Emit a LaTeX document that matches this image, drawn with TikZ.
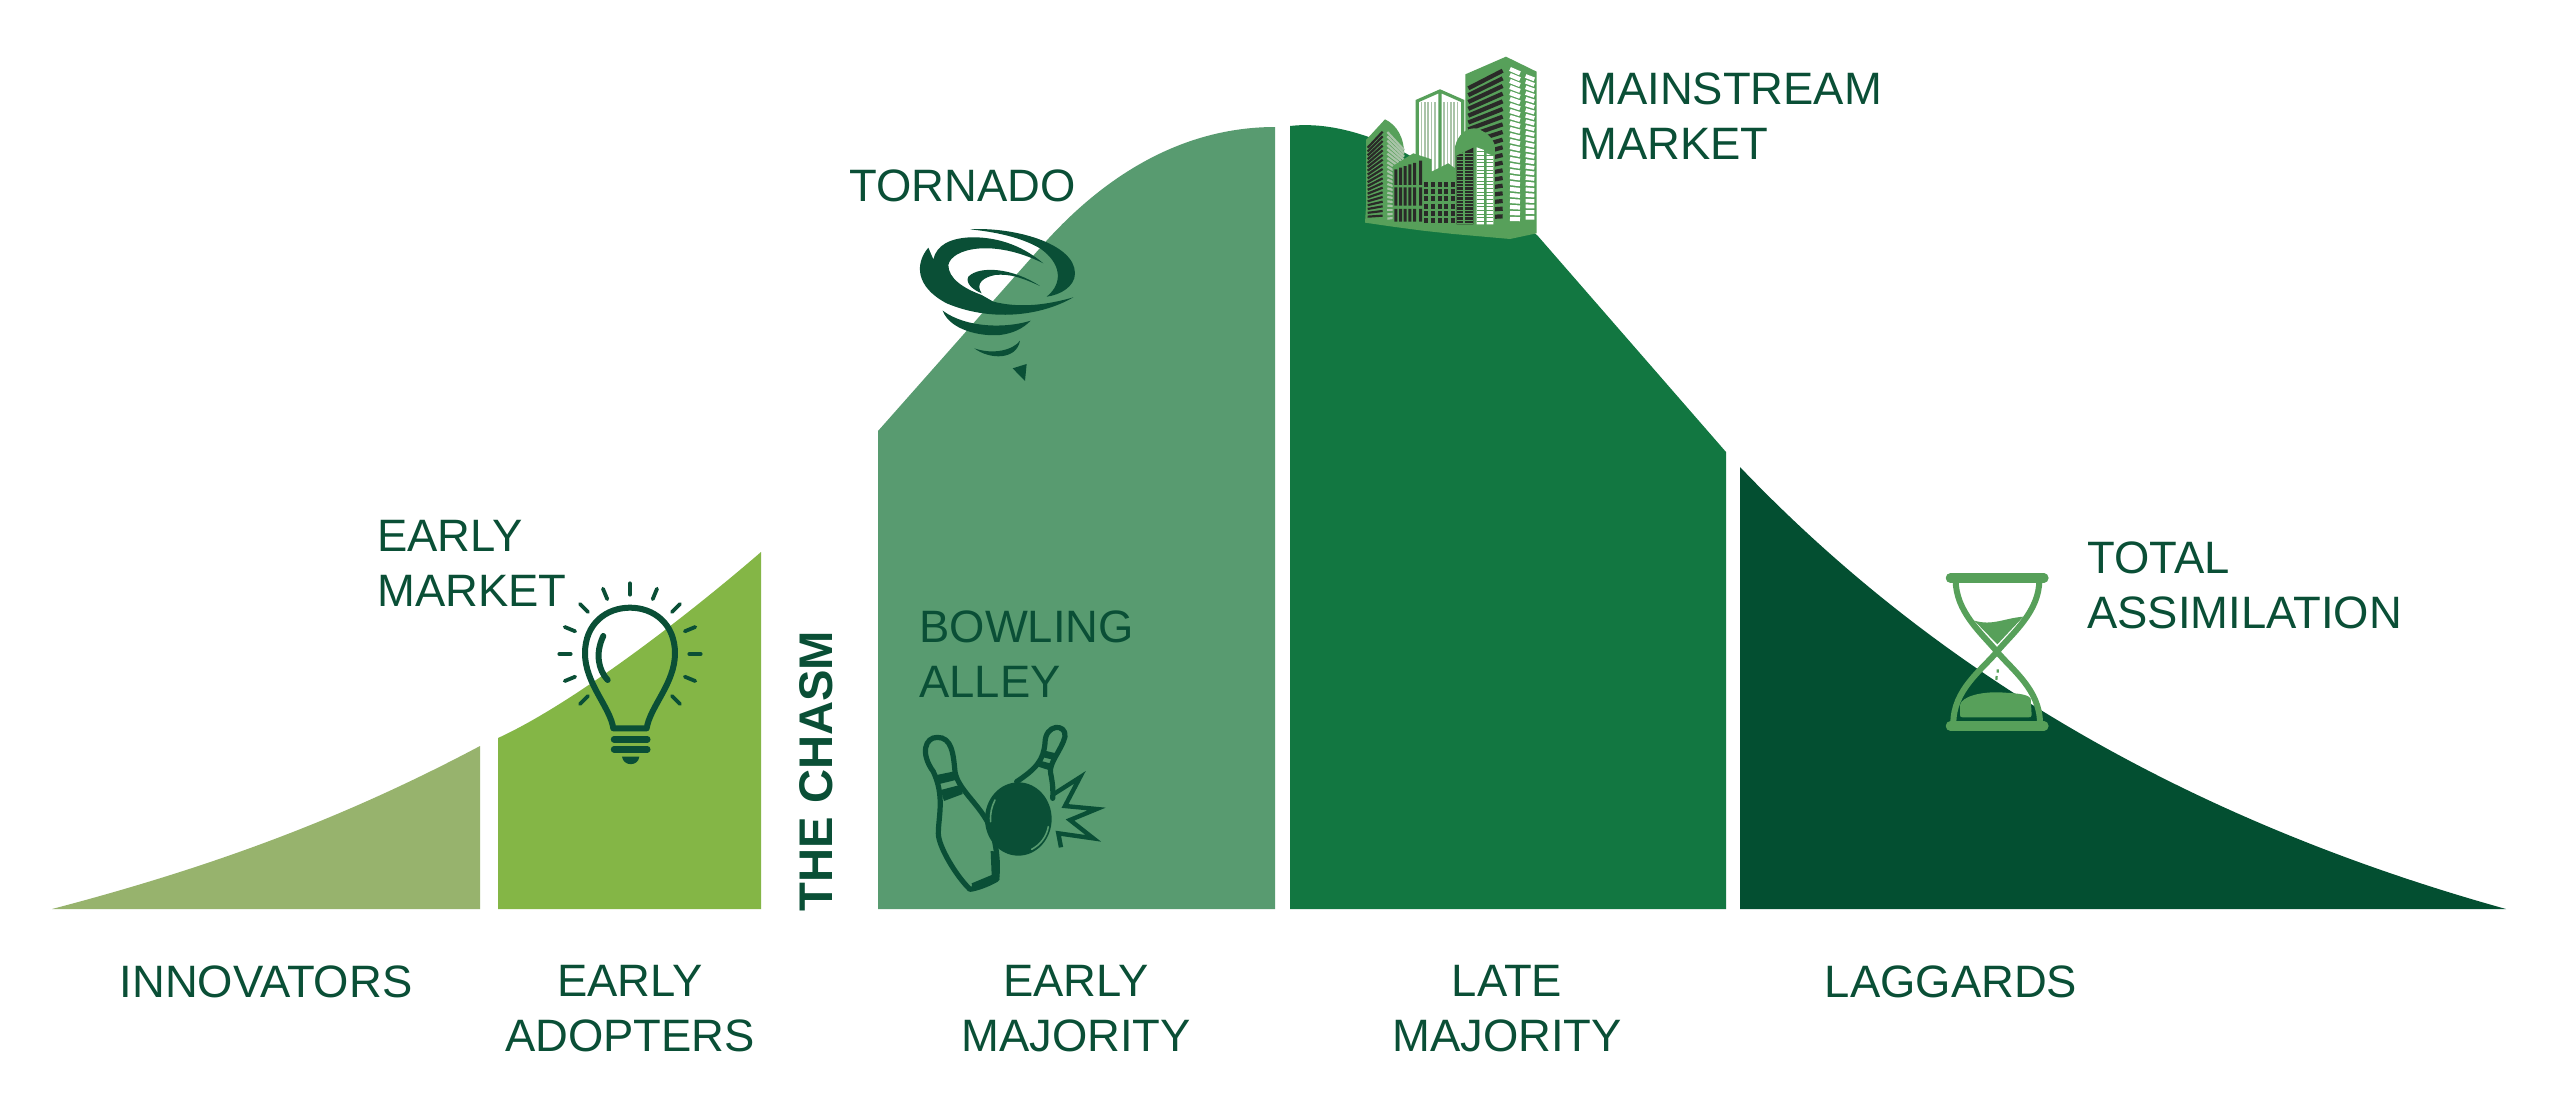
\documentclass[tikz,border=0pt]{standalone}
\usepackage{fontspec}
\setmainfont{Liberation Sans}
\usepackage{tikz}
\usetikzlibrary{calc}
\definecolor{inkg}{HTML}{0A4F36}
\definecolor{innog}{HTML}{97B36D}
\definecolor{adopg}{HTML}{84B646}
\definecolor{earlg}{HTML}{589B70}
\definecolor{lateg}{HTML}{127741}
\definecolor{laggg}{HTML}{034F31}
\definecolor{iconl}{HTML}{57A05A}
\definecolor{winb}{HTML}{2A2A28}
\definecolor{paleg}{HTML}{A9C4A8}

\begin{document}
\begin{tikzpicture}[x=0.5pt,y=-0.5pt,
  lab/.style={inner sep=0pt,anchor=west,align=left,text=inkg,font=\fontsize{22.7}{27.5}\selectfont},
  lowlab/.style={inner sep=0pt,anchor=north,align=center,text=inkg,font=\fontsize{22.7}{27.5}\selectfont},
  icon/.style={draw=inkg,line cap=round,line join=round}]

\useasboundingbox[fill=white] (0,0) rectangle (2560,1116);

% the five parts of the curve
\fill[innog] (52,909) .. controls (220,865) and (350,815) .. (480,746) -- (480,909) -- cycle;
\fill[adopg] (498,738) .. controls (570,705) and (680,622) .. (761,552) -- (761,909) -- (498,909) -- cycle;
\fill[earlg] (878,431) -- (1040,248) .. controls (1110,168) and (1190,127) .. (1275,127) -- (1275,909) -- (878,909) -- cycle;
\fill[lateg] (1290,126) .. controls (1340,120) and (1400,145) .. (1440,175) -- (1537,235) -- (1726,452) -- (1726,909) -- (1290,909) -- cycle;
\fill[laggg] (1740,467) .. controls (1910,645) and (2150,810) .. (2506,909) -- (1740,909) -- cycle;

\node[lab] (mark) at (377,563) {EARLY\\MARKET};
\node[lab] (torn) at (849,186) {TORNADO};
\node[lab] (main) at (1579,116) {MAINSTREAM\\MARKET};
\node[lab] (bowl) at (919,654) {BOWLING\\ALLEY};
\node[lab] (tota) at (2087,585) {TOTAL\\ASSIMILATION};
\node[inner sep=0pt,text=inkg,rotate=90,font=\fontsize{23.6}{27}\selectfont\bfseries] (chas) at (816,771) {THE CHASM};

\node[lowlab] (inno) at (266,965) {INNOVATORS};
\node[lowlab] (adop) at (630,965) {EARLY\\ADOPTERS};
\node[lowlab] (emaj) at (1076,965) {EARLY\\MAJORITY};
\node[lowlab] (lmaj) at (1507,965) {LATE\\MAJORITY};
\node[lowlab] (lagg) at (1951,965) {LAGGARDS};

% bulb
\begin{scope}[shift={(540,560)},scale=0.3333]
\draw[icon,line width=3pt] (220,505) .. controls (210,440) and (135,370) .. (135,280) .. controls (135,190) and (200,143) .. (270,143) .. controls (340,143) and (405,190) .. (405,280) .. controls (405,370) and (330,440) .. (320,505) -- cycle;
\draw[icon,line width=3pt] (190,228) .. controls (165,280) and (175,330) .. (203,360);
\draw[icon,line width=3.2pt] (222,538) -- (322,538) (222,568) -- (322,568);
\fill[inkg] (246,590) -- (298,590) .. controls (295,620) and (250,620) .. (246,590) -- cycle;
\foreach \a in {-45,-22.5,0,22.5,45,67.5,90,112.5,135,157.5,180,202.5,225}
  \draw[icon,line width=1.9pt] ($(270,282)+(\a:178 and -178)$) -- ($(270,282)+(\a:212 and -212)$);
\end{scope}

% tornado
\begin{scope}[shift={(880,200)},scale=0.3333]
\fill[inkg] (270,88) .. controls (400,80) and (585,130) .. (585,220) .. controls (585,260) and (540,285) .. (500,290) .. controls (550,250) and (545,190) .. (480,145) .. controls (420,110) and (340,95) .. (270,88) -- cycle;
\fill[inkg] (145,143) .. controls (105,190) and (105,260) .. (200,310) .. controls (330,365) and (480,350) .. (580,292) .. controls (500,315) and (420,325) .. (340,305) -- (305,285) .. controls (250,265) and (205,235) .. (205,195) .. controls (215,145) and (340,115) .. (490,190) .. controls (420,130) and (340,110) .. (270,112) .. controls (210,115) and (170,135) .. (160,178) -- cycle;
\fill[inkg] (480,258) .. controls (400,205) and (300,195) .. (265,230) .. controls (255,250) and (280,270) .. (305,280) .. controls (285,250) and (310,232) .. (345,225) .. controls (390,220) and (430,235) .. (480,258) -- cycle;
\fill[inkg] (188,332) .. controls (210,390) and (300,410) .. (360,405) .. controls (400,400) and (430,385) .. (452,362) .. controls (380,385) and (260,385) .. (188,332) -- cycle;
\fill[inkg] (283,445) .. controls (330,480) and (410,480) .. (420,422) .. controls (400,450) and (340,465) .. (283,445) -- cycle;
\fill[inkg] (398,505) -- (440,492) -- (435,543) -- cycle;
\end{scope}

% bowling pins and ball
\begin{scope}[shift={(880,700)},scale=0.3333]
\draw[icon,line width=2.6pt] (160,215) .. controls (120,160) and (135,112) .. (172,112) .. controls (215,112) and (220,160) .. (225,215) .. controls (235,280) and (330,330) .. (345,430) .. controls (355,480) and (352,520) .. (350,538) .. controls (320,555) and (290,565) .. (270,568) .. controls (230,530) and (175,440) .. (175,400) .. controls (175,350) and (195,290) .. (160,215) -- cycle;
\fill[inkg] (170,225) -- (228,213) -- (235,238) -- (178,252) -- cycle (182,270) -- (240,255) -- (248,282) -- (192,303) -- cycle;
\fill[inkg] (332,453) -- (352,455) -- (358,540) -- (278,572) -- (275,550) -- (335,525) -- cycle;
\draw[icon,line width=2.6pt] (410,245) .. controls (470,205) and (490,180) .. (495,130) .. controls (495,70) and (560,70) .. (555,110) .. controls (545,150) and (505,190) .. (512,220) .. controls (518,250) and (520,270) .. (518,295);
\fill[inkg] (487,150) -- (528,160) -- (522,180) -- (482,170) -- cycle (480,182) -- (518,192) -- (512,212) -- (475,200) -- cycle;
\fill[inkg] (415,357) ellipse (100 and 110);
\draw[icon,line width=0.8pt,draw=earlg] (345,300) .. controls (335,320) and (330,340) .. (332,365) (505,380) .. controls (500,410) and (480,435) .. (455,448);
\draw[draw=inkg,line width=2.2pt,line join=miter] (543,442) -- (535,400) -- (640,415) -- (570,360) -- (650,327) -- (555,318) -- (600,232) -- (520,283);
\end{scope}

% buildings
\begin{scope}[shift={(1280,40)},scale=0.3333]
\fill[white] (412,183) -- (480,153) -- (548,183) -- (548,400) -- (412,400) -- cycle;
\foreach \x in {422,432,442,452,462,490,500,510,520,530}
  \fill[paleg] (\x,185) rectangle (\x+5,400);
\draw[iconl,line width=1.6pt] (412,345) -- (412,183) -- (480,153) -- (548,183) -- (548,400) (480,153) -- (480,400);
\fill[iconl] (556,103) -- (678,50) -- (770,95) -- (770,580) -- (690,597) -- (520,582) -- (428,572) -- (338,560) -- (255,548) -- (258,500) -- (556,500) -- cycle;
\foreach \i in {0,...,19}
  \draw[winb,line width=2.1pt] (565,{145+\i*20.5}) -- (668,{92+\i*23});
\foreach \i in {0,...,25} {
  \draw[white,line width=2.1pt] (690,{87+\i*18}) -- (720,{100+\i*17.5});
  \draw[white,line width=1.9pt] (737,{108+\i*17}) -- (763,{118+\i*16.6});
}
% left tower
\fill[iconl] (258,300) -- (315,238) .. controls (350,255) and (373,290) .. (373,350) -- (338,380) -- (338,550) -- (258,548) -- cycle;
\foreach \i in {0,...,18}
  \draw[winb,line width=1.1pt] (263,{323+\i*11.5}) -- (308,{275+\i*14});
\foreach \i in {0,...,20}
  \draw[paleg,line width=1.1pt] (322,{276+\i*13}) -- (372,{330+\i*10});
% low blocks
\fill[iconl] (338,378) -- (400,340) -- (455,358) -- (455,395) -- (505,370) -- (525,385) -- (525,320) .. controls (535,280) and (560,265) .. (585,265) .. controls (610,270) and (640,290) .. (645,320) -- (645,560) -- (338,557) -- cycle;
\foreach \x in {343,357,371,385,399,417}
  \fill[winb] (\x,{388-(\x-343)*0.35}) rectangle (\x+9,435) (\x,442) rectangle (\x+9,497) (\x,507) rectangle (\x+9,545);
\foreach \x in {433,453,473,493,512}
  \foreach \y in {425,447,469,491,513,535}
    \fill[winb] (\x,\y) rectangle (\x+12,\y+15);
\fill[winb] (530,347) -- (580,323) -- (580,553) -- (530,553) -- cycle;
\foreach \y in {340,350,...,550}
  \draw[iconl,line width=0.4pt] (530,\y) -- (580,\y);
\draw[iconl,line width=1pt] (552,330) -- (552,553);
\fill[white] (590,322) -- (612,330) -- (612,553) -- (590,553) -- cycle (620,340) -- (640,348) -- (640,553) -- (620,553) -- cycle;
\foreach \y in {335,346,...,550}
  \draw[iconl,line width=0.4pt] (590,\y) -- (640,\y);
\end{scope}

% hourglass
\begin{scope}[shift={(1920,550)},scale=0.3333]
\draw[iconl,line width=3pt,line cap=round] (107,90) .. controls (107,185) and (185,250) .. (231,305) .. controls (277,360) and (360,420) .. (360,520);
\draw[iconl,line width=3pt,line cap=round] (358,90) .. controls (358,185) and (277,250) .. (231,305) .. controls (185,360) and (100,420) .. (100,520);
\draw[iconl,line width=4.6pt,line cap=round] (91,84) -- (372,84) (91,528) -- (372,528);
\fill[iconl] (163,212) .. controls (220,228) and (250,205) .. (310,200) -- (232,283) -- cycle;
\fill[iconl] (120,495) -- (120,465) .. controls (125,440) and (180,425) .. (240,427) .. controls (280,430) and (320,430) .. (332,445) -- (335,495) .. controls (335,502) and (330,502) .. (325,502) -- (128,502) .. controls (122,502) and (120,500) .. (120,495) -- cycle;
\draw[iconl,line width=1.1pt] (233,358) -- (233,368) (230,378) -- (229,390);
\end{scope}

\end{tikzpicture}
\end{document}
